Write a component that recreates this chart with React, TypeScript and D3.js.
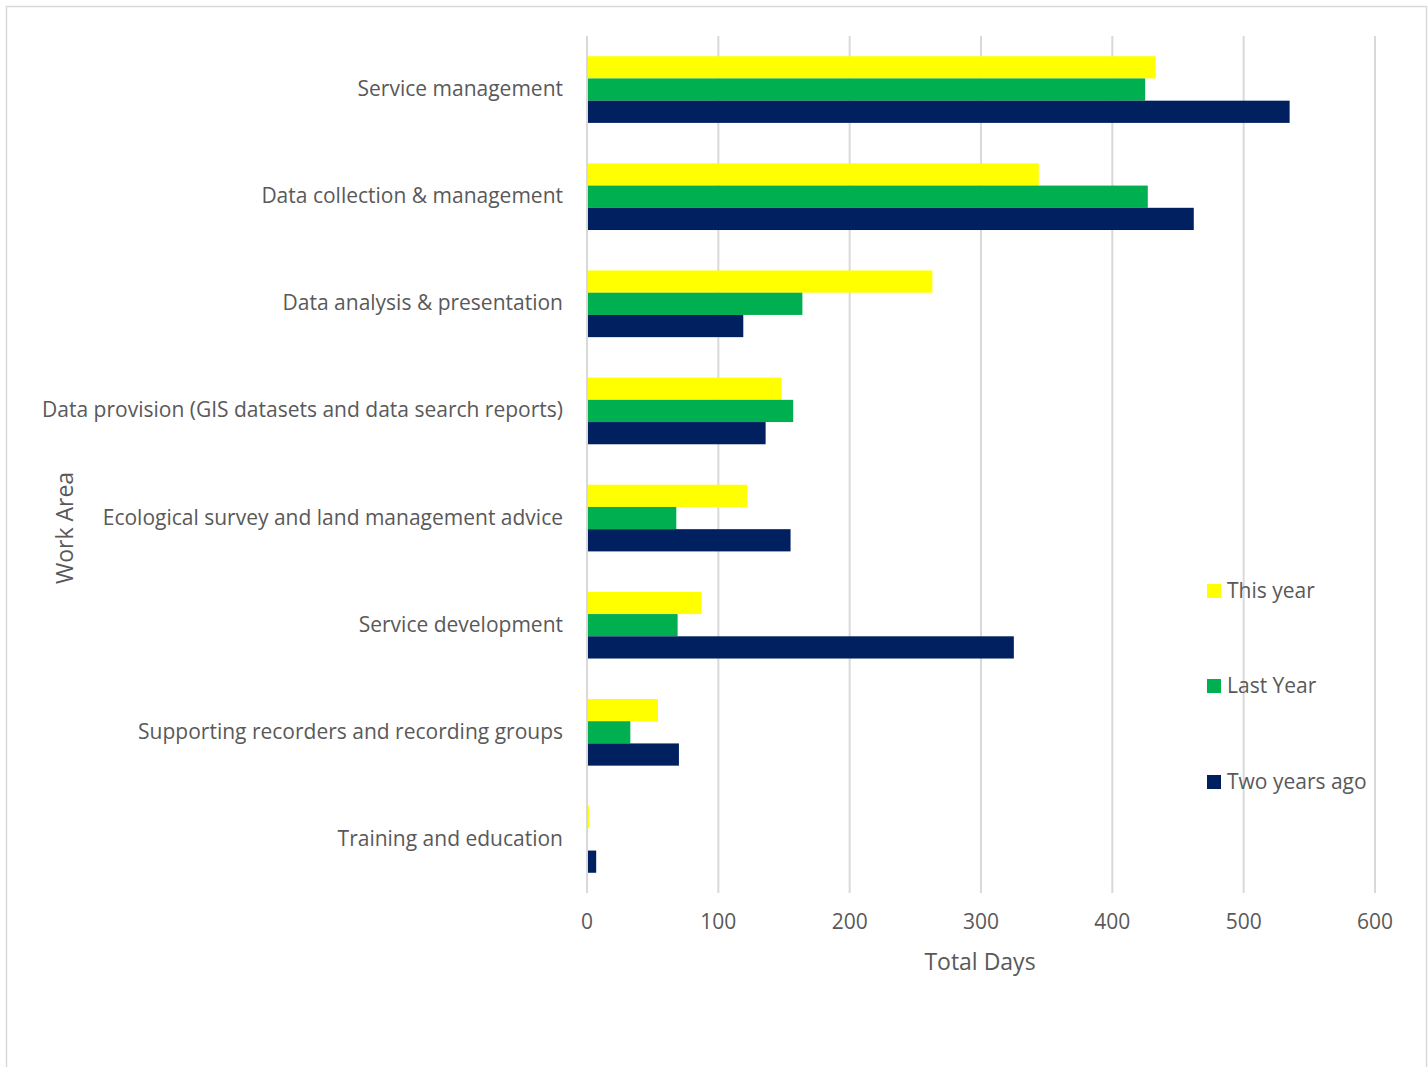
import React from "react";
import * as d3 from "d3";

const categories = [
  "Service management",
  "Data collection & management",
  "Data analysis & presentation",
  "Data provision (GIS datasets and data search reports)",
  "Ecological survey and land management advice",
  "Service development",
  "Supporting recorders and recording groups",
  "Training and education",
];
const thisYear = [433, 344, 263, 148, 122, 87, 54, 1.5];
const lastYear = [425, 427, 164, 157, 68, 69, 33, 0];
const twoYearsAgo = [535, 462, 119, 136, 155, 325, 70, 7];
const seriesNames = ["This year", "Last Year", "Two years ago"];
const seriesColors = ["#FFFF00", "#00B050", "#002060"];
const xTicks = [0, 100, 200, 300, 400, 500, 600];

export default function App() {
  const W = 1428, H = 1067;
  const left = 587, right = 1375, top = 36, bottom = 893;
  const x = d3.scaleLinear().domain([0, 600]).range([left, right]);
  const y = d3.scaleBand().domain(categories).range([top, bottom]);
  const gap = 1.82;
  const bw = y.bandwidth() / (3 + gap);
  const series = [thisYear, lastYear, twoYearsAgo];
  const font = "'Open Sans', sans-serif";
  const txt = "#595959";
  const legendY = [591, 686, 782];
  return (
    <svg width={W} height={H} style={{ position: "absolute", left: 0, top: 0 }} fontFamily={font}>
      <rect x={0} y={0} width={W} height={H} fill="#fff" />
      <path d={`M6.5,${H} V6.5 H1426.5 V${H}`} fill="none" stroke="#d9d9d9" strokeWidth={1.5} />
      {xTicks.map((t) => (
        <line key={t} x1={x(t)} x2={x(t)} y1={top} y2={bottom} stroke="#d9d9d9" strokeWidth={2} />
      ))}
      {categories.map((c, i) => {
        const y0 = (y(c) as number) + (y.bandwidth() - 3 * bw) / 2;
        return (
          <g key={c}>
            {series.map((s, k) =>
              s[i] > 0 ? (
                <rect key={k} x={x(0) + 1} y={y0 + k * bw} width={Math.max(0, x(s[i]) - x(0) - 1)} height={bw} fill={seriesColors[k]} />
              ) : null
            )}
            <text x={563} y={(y(c) as number) + y.bandwidth() / 2 - 1.5} textAnchor="end" dominantBaseline="central" fontSize={21} fill={txt}>
              {c}
            </text>
          </g>
        );
      })}
      {xTicks.map((t) => (
        <text key={t} x={x(t)} y={921} textAnchor="middle" dominantBaseline="central" fontSize={21} fill={txt}>
          {t}
        </text>
      ))}
      <text x={980} y={961} textAnchor="middle" dominantBaseline="central" fontSize={23} fill={txt}>
        Total Days
      </text>
      <text transform="translate(64,528) rotate(-90)" textAnchor="middle" dominantBaseline="central" fontSize={23} fill={txt}>
        Work Area
      </text>
      {seriesNames.map((n, k) => (
        <g key={n}>
          <rect x={1207} y={legendY[k] - 7} width={14} height={14} fill={seriesColors[k]} />
          <text x={1227} y={legendY[k] - 1} dominantBaseline="central" fontSize={21} fill={txt}>
            {n}
          </text>
        </g>
      ))}
    </svg>
  );
}
